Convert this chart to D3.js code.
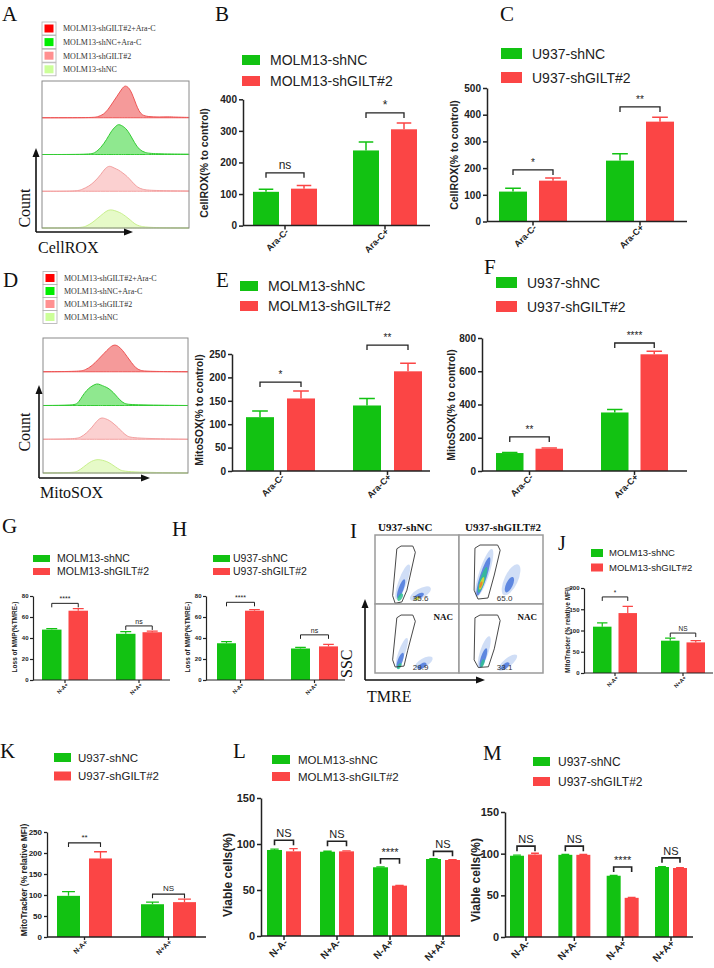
<!DOCTYPE html>
<html><head><meta charset="utf-8">
<script src="https://cdn.jsdelivr.net/npm/d3@7"></script>
<style>body{margin:0;background:#fff}</style>
</head><body><script>
// ---------------- DATA ----------------
const groupsAra = ["Ara-C-", "Ara-C+"];
const groupsNA = ["N-A+", "N+A+"];
const groupsViab = ["N-A-", "N+A-", "N-A+", "N+A+"];
const molmNames = ["MOLM13-shNC", "MOLM13-shGILT#2"];
const u937Names = ["U937-shNC", "U937-shGILT#2"];
const histNames = ["MOLM13-shGILT#2+Ara-C", "MOLM13-shNC+Ara-C", "MOLM13-shGILT#2", "MOLM13-shNC"];

// B: CellROX MOLM13
const bNC = [107, 238], bNCErr = [8, 27];
const bKD = [117, 305], bKDErr = [10, 20];
const bSig = ["ns", "*"], bSigY = [167, 357];
const bTicks = [0, 100, 200, 300, 400];
// C: CellROX U937
const cNC = [112, 228], cNCErr = [13, 26];
const cKD = [153, 374], cKDErr = [10, 16];
const cSig = ["*", "**"], cSigY = [193, 429];
const cTicks = [0, 100, 200, 300, 400, 500];
// E: MitoSOX MOLM13
const eNC = [115, 140], eNCErr = [13, 15];
const eKD = [155, 213], eKDErr = [16, 17];
const eSig = ["*", "**"], eSigY = [190, 269];
const eTicks = [0, 50, 100, 150, 200, 250];
// F: MitoSOX U937
const fNC = [108, 352], fNCErr = [3, 18];
const fKD = [134, 702], fKDErr = [5, 18];
const fSig = ["**", "****"], fSigY = [205, 770];
const fTicks = [0, 200, 400, 600, 800];
// G: Loss of MMP MOLM13
const gNC = [48, 44], gNCErr = [1, 2];
const gKD = [66, 45.5], gKDErr = [2, 1];
const gSig = ["****", "ns"], gSigY = [73, 51.5];
const gTicks = [0, 20, 40, 60, 80];
// H: Loss of MMP U937
const hNC = [35, 30], hNCErr = [1.5, 1];
const hKD = [66, 32], hKDErr = [1, 2];
const hSig = ["****", "ns"], hSigY = [74, 43];
// J: MitoTracker MOLM13
const jNC = [109, 76], jNCErr = [9, 6];
const jKD = [141, 72], jKDErr = [16, 4];
const jSig = ["*", "NS"], jSigY = [179, 94];
const jTicks = [0, 50, 100, 150, 200];
// K: MitoTracker U937
const kNC = [98, 78], kNCErr = [10, 5];
const kKD = [187, 83], kKDErr = [16, 7];
const kSig = ["**", "NS"], kSigY = [224, 102];
const kTicks = [0, 50, 100, 150, 200, 250];
// L: viability MOLM13
const lNC = [93.5, 91.6, 74.7, 83.7], lNCErr = [1, 0.5, 0.5, 0.5];
const lKD = [92, 92, 54.7, 82.6], lKDErr = [3, 0.5, 0.3, 0.5];
const lSig = ["NS", "NS", "****", "NS"], lSigY = [104, 103, 84, 92];
const vTicks = [0, 50, 100, 150];
// M: viability U937
const mNC = [97.5, 98.6, 73.5, 84], mNCErr = [0.8, 0.5, 0.5, 0.5];
const mKD = [99, 98.6, 47, 82.8], mKDErr = [1.5, 0.5, 0.5, 0.5];
const mSig = ["NS", "NS", "****", "NS"], mSigY = [109, 109, 84, 95];

// A: CellROX histograms [channel, relative count]
const aRed = [[0,0],[35,0],[38,0.03],[42,0.1],[45,0.25],[48,0.45],[51,0.65],[54,0.85],[56,0.97],[58,0.95],[60,0.85],[62,0.65],[64,0.4],[66,0.2],[68,0.08],[72,0.03],[80,0.02],[86,0.03],[90,0.02],[100,0.01]];
const aGreen = [[0,0],[33,0],[36,0.05],[40,0.2],[44,0.45],[47,0.7],[50,0.85],[52,0.92],[54,0.88],[57,0.8],[60,0.6],[63,0.35],[66,0.15],[70,0.05],[76,0.02],[100,0.01]];
const aPink = [[0,0],[24,0],[27,0.05],[32,0.15],[36,0.3],[40,0.5],[43,0.7],[46,0.78],[49,0.7],[52,0.65],[55,0.55],[58,0.45],[61,0.3],[64,0.15],[68,0.05],[75,0.02],[100,0.01]];
const aLight = [[0,0],[26,0],[30,0.05],[34,0.15],[38,0.3],[42,0.45],[45,0.55],[48,0.55],[51,0.5],[54,0.45],[57,0.35],[60,0.25],[63,0.12],[67,0.04],[75,0.01],[100,0]];
// D: MitoSOX histograms
const dRed = [[0,0],[25,0.01],[29,0.05],[34,0.2],[38,0.4],[42,0.6],[46,0.8],[49,0.9],[52,0.85],[55,0.7],[58,0.5],[61,0.3],[64,0.12],[67,0.04],[72,0.01],[100,0]];
const dGreen = [[0,0],[21,0.01],[24,0.06],[27,0.3],[30,0.5],[33,0.62],[36,0.7],[38,0.72],[41,0.65],[44,0.6],[47,0.5],[50,0.35],[53,0.18],[56,0.06],[60,0.02],[100,0]];
const dPink = [[0,0],[22,0.01],[26,0.06],[30,0.2],[34,0.4],[37,0.6],[40,0.72],[43,0.68],[46,0.62],[49,0.5],[52,0.38],[55,0.22],[58,0.1],[62,0.03],[100,0]];
const dLight = [[0,0],[20,0.01],[24,0.05],[28,0.2],[32,0.35],[35,0.42],[38,0.45],[41,0.42],[44,0.38],[47,0.3],[50,0.2],[53,0.1],[57,0.03],[100,0]];

// I: flow cytometry cells
const iTitles = ["U937-shNC", "U937-shGILT#2"];
const iPct = ["35.6", "65.0", "29.9", "33.1"];
const iGates = [
  [[26,80],[31,84],[45,84],[48,75],[38,20],[32,3],[24,1],[21,12]],
  [[19,81],[25,85.5],[46,85.5],[49,78],[42,42],[34.5,8.7],[22.6,7.2],[18,20]],
  [[26,80],[31,84],[45,84],[48,75],[39,33],[34.5,10],[24,8.7],[21,19]],
  [[19,80],[25,84],[46,84],[49,76],[42,35],[35,9],[23,8],[18,19]]
];
// density blobs: [x%, y%, rx%, ry%, angle, level]
const iBlobs = [
  [[33,32,22,5,-70,0],[31,22,12,3,-70,1],[30,10,5,2.5,-60,2],[54,15,14,6,-30,0],[52,11,7,3,-30,1],[50,8,3.5,2,-20,3]],
  [[30,45,30,6,-72,0],[62,35,20,8,-65,0],[60,28,10,4,-65,1],[29,40,24,4,-72,1],[28,35,16,3,-72,2],[27,30,8,2,-72,3],[26,28,4,1.5,-72,4]],
  [[32,30,18,4,-70,0],[30,18,10,3,-70,1],[29,10,4,2,-60,2],[58,15,12,5,-30,0],[56,10,6,3,-30,1]],
  [[30,30,20,5,-72,0],[58,15,14,5,-40,0],[29,22,12,3,-72,1],[28,14,5,2,-70,2],[55,10,6,3,-40,1]]
];
const levelColors = ["#a9c3ee", "#4a78dc", "#2fbf8f", "#e3e02a", "#f07a2a"];

// ---------------- DRAW ----------------
const GREEN = "#12c212", RED = "#fb4545";
const SANS = "'Liberation Sans', Arial, sans-serif";
const SERIF = "'Liberation Serif', 'Times New Roman', serif";
const svg = d3.select("body").append("svg").attr("width", 714).attr("height", 968)
  .style("background", "#fff");

function letter(t, x, y, size) {
  svg.append("text").attr("x", x).attr("y", y).text(t)
    .style("font-family", SERIF).style("font-size", (size || 21) + "px").attr("fill", "#111");
}

function legend(o) {
  const names = o.names, colors = [GREEN, RED];
  names.forEach((n, i) => {
    svg.append("rect").attr("x", o.x).attr("y", o.y + i * o.dy).attr("width", o.w).attr("height", o.h)
      .attr("fill", colors[i]);
    svg.append("text").attr("x", o.tx).attr("y", o.y + i * o.dy + o.h / 2).attr("dy", "0.36em")
      .text(n).style("font-family", SANS).style("font-size", o.fs + "px").attr("fill", "#222");
  });
}

function barChart(o) {
  const g = svg.append("g");
  const y = d3.scaleLinear().domain([0, o.max]).range([o.base, o.top]);
  const n = o.cats.length, gw = 2 * o.bw + o.gap;
  const step = (o.e - o.s - gw) / (n - 1);
  const xg = d3.scaleBand().domain(o.cats).range([o.s, o.e]).paddingInner(1 - gw / step).paddingOuter(0);
  const xs = d3.scaleBand().domain([0, 1]).range([0, gw]).paddingInner(o.gap / (o.bw + o.gap)).paddingOuter(0);
  const series = [{ v: o.nc, e: o.ncErr, c: GREEN }, { v: o.kd, e: o.kdErr, c: RED }];
  series.forEach((s, k) => {
    const sel = g.selectAll(null).data(o.cats).enter();
    sel.append("rect").attr("x", d => xg(d) + xs(k)).attr("width", xs.bandwidth())
      .attr("y", (d, i) => y(s.v[i])).attr("height", (d, i) => o.base - y(s.v[i])).attr("fill", s.c);
    sel.append("path").attr("d", (d, i) => {
      const cx = xg(d) + xs(k) + xs.bandwidth() / 2, yt = y(s.v[i] + s.e[i]), cw = xs.bandwidth() * 0.28;
      return `M${cx},${y(s.v[i])}V${yt}M${cx - cw},${yt}H${cx + cw}`;
    }).attr("stroke", s.c).attr("stroke-width", o.elw || 1.5).attr("fill", "none");
  });
  o.cats.forEach((d, i) => {
    const x1 = xg(d) + xs(0) + xs.bandwidth() / 2, x2 = xg(d) + xs(1) + xs.bandwidth() / 2, yy = y(o.sigY[i]);
    g.append("path").attr("d", `M${x1},${yy + o.drop}V${yy}H${x2}V${yy + o.drop}`)
      .attr("stroke", "#222").attr("stroke-width", o.blw || 1.3).attr("fill", "none");
    g.append("text").attr("x", (x1 + x2) / 2).attr("y", yy - o.sgap).attr("text-anchor", "middle")
      .text(o.sig[i]).style("font-family", SANS).style("font-size", o.sfs + "px").attr("fill", "#222");
  });
  const ya = g.append("g").attr("transform", `translate(${o.ax},0)`)
    .call(d3.axisLeft(y).tickValues(o.ticks).tickSize(o.tk).tickPadding(o.tp).tickSizeOuter(0));
  const xa = g.append("g").attr("transform", `translate(0,${o.base})`)
    .call(d3.axisBottom(xg).tickSize(o.tk).tickSizeOuter(0));
  xa.select(".domain").attr("d", `M${o.ax},0H${o.xe}`);
  [ya, xa].forEach(a => {
    a.selectAll("path,line").attr("stroke", "#222").attr("stroke-width", o.alw || 1.5);
    a.selectAll("text").style("font-family", SANS).style("font-weight", "bold").attr("fill", "#222");
  });
  ya.selectAll("text").style("font-size", o.tfs + "px");
  xa.selectAll("text").style("font-size", o.xfs + "px")
    .attr("text-anchor", "end").attr("transform", "rotate(-45)").attr("dx", "-0.2em").attr("dy", "0.2em").attr("y", o.tk + 2);
  svg.append("text").attr("transform", `translate(${o.ylx},${o.yly}) rotate(-90)`).attr("text-anchor", "middle")
    .text(o.ylabel).style("font-family", SANS).style("font-weight", "bold").style("font-size", o.yfs + "px").attr("fill", "#222");
}

function arrowLine(x1, y1, x2, y2, hl, hw) {
  const ang = Math.atan2(y2 - y1, x2 - x1);
  svg.append("line").attr("x1", x1).attr("y1", y1).attr("x2", x2 - Math.cos(ang) * hl * 0.8).attr("y2", y2 - Math.sin(ang) * hl * 0.8)
    .attr("stroke", "#111").attr("stroke-width", 1.6);
  const bx = x2 - Math.cos(ang) * hl, by = y2 - Math.sin(ang) * hl;
  const px = -Math.sin(ang) * hw / 2, py = Math.cos(ang) * hw / 2;
  svg.append("path").attr("d", `M${x2},${y2}L${bx + px},${by + py}L${bx - px},${by - py}Z`).attr("fill", "#111");
}

function histPanel(o) {
  const g = svg.append("g");
  const rowH = (o.y1 - o.y0) / 4;
  const x = d3.scaleLinear().domain([0, 100]).range([o.x0, o.x1]);
  o.rows.forEach((r, i) => {
    const yb = o.y0 + rowH * (i + 1);
    const y = d3.scaleLinear().domain([0, 1]).range([yb, yb - rowH * 0.9]);
    const area = d3.area().x(d => x(d[0])).y0(yb).y1(d => y(d[1])).curve(d3.curveBasis);
    g.append("path").datum(r.data).attr("d", area).attr("fill", r.fill).attr("stroke", r.stroke).attr("stroke-width", 1);
  });
  g.append("rect").attr("x", o.x0).attr("y", o.y0).attr("width", o.x1 - o.x0).attr("height", o.y1 - o.y0)
    .attr("fill", "none").attr("stroke", "#8a8a8a").attr("stroke-width", 1);
  const lc = ["#ff0000", "#00ee00", "#ff9090", "#ccff99"];
  histNames.forEach((nm, i) => {
    const cy = o.ly + i * o.ldy;
    g.append("rect").attr("x", o.lx).attr("y", cy - 6.5).attr("width", 14).attr("height", 13)
      .attr("fill", "#fff").attr("stroke", "#b0b0b0").attr("stroke-width", 0.8);
    g.append("rect").attr("x", o.lx + 2.5).attr("y", cy - 4).attr("width", 9).attr("height", 8).attr("fill", lc[i]);
    g.append("text").attr("x", o.lx + 21).attr("y", cy).attr("dy", "0.35em").text(nm)
      .style("font-family", SERIF).style("font-size", "8px").attr("fill", "#333");
  });
  arrowLine(o.ax, o.ay, o.ax, o.atop, 9, 7);
  arrowLine(o.ax, o.ay, o.aright, o.ay, 9, 7);
  svg.append("text").attr("transform", `translate(${o.cx},${o.cy}) rotate(-90)`).attr("text-anchor", "middle")
    .text("Count").style("font-family", SERIF).style("font-size", "16px").attr("fill", "#111");
  svg.append("text").attr("x", o.tx).attr("y", o.ty).text(o.xlabel)
    .style("font-family", SERIF).style("font-size", "16px").attr("fill", "#111");
}

// ---- Panel A
letter("A", 2, 21);
histPanel({
  x0: 42, x1: 189, y0: 81, y1: 228,
  rows: [
    { data: aRed, fill: "#f59a9a", stroke: "#ee5555" },
    { data: aGreen, fill: "#8fe88f", stroke: "#33cc33" },
    { data: aPink, fill: "#fbd0d0", stroke: "#f3a0a0" },
    { data: aLight, fill: "#e6fac8", stroke: "#c8f08c" }
  ],
  lx: 42, ly: 28.5, ldy: 13.6,
  ax: 36, ay: 232, atop: 148, aright: 133,
  cx: 30, cy: 208, tx: 38, ty: 253, xlabel: "CellROX"
});
// ---- Panel D
letter("D", 3, 287);
histPanel({
  x0: 43, x1: 188, y0: 338, y1: 473,
  rows: [
    { data: dRed, fill: "#f59a9a", stroke: "#ee5555" },
    { data: dGreen, fill: "#8fe88f", stroke: "#33cc33" },
    { data: dPink, fill: "#fbd0d0", stroke: "#f3a0a0" },
    { data: dLight, fill: "#e6fac8", stroke: "#c8f08c" }
  ],
  lx: 43, ly: 278, ldy: 13,
  ax: 39, ay: 478, atop: 385, aright: 150,
  cx: 30, cy: 432, tx: 40, ty: 498, xlabel: "MitoSOX"
});

// ---- Panel B
letter("B", 215, 21);
legend({ names: molmNames, x: 242, y: 55, w: 18, h: 10, dy: 21, tx: 270, fs: 14 });
barChart({ cats: groupsAra, nc: bNC, ncErr: bNCErr, kd: bKD, kdErr: bKDErr, sig: bSig, sigY: bSigY,
  ticks: bTicks, max: 400, ax: 243, xe: 430, base: 225.6, top: 99.3, s: 253, e: 417, bw: 26, gap: 12,
  tk: 4, tp: 2, tfs: 10, xfs: 9, drop: 5, sgap: 4, sfs: 12,
  ylabel: "CellROX(% to control)", ylx: 208, yly: 163, yfs: 10.5 });
// ---- Panel C
letter("C", 500, 21);
legend({ names: u937Names, x: 501, y: 48, w: 21, h: 11, dy: 24, tx: 532, fs: 14 });
barChart({ cats: groupsAra, nc: cNC, ncErr: cNCErr, kd: cKD, kdErr: cKDErr, sig: cSig, sigY: cSigY,
  ticks: cTicks, max: 500, ax: 487, xe: 687, base: 221.5, top: 88, s: 499, e: 674, bw: 28, gap: 12,
  tk: 4, tp: 2, tfs: 10, xfs: 9, drop: 5, sgap: 4, sfs: 10,
  ylabel: "CellROX(% to control)", ylx: 458, yly: 155, yfs: 10.5 });
// ---- Panel E
letter("E", 216, 287);
legend({ names: molmNames, x: 240, y: 281, w: 18, h: 10, dy: 20, tx: 268, fs: 14 });
barChart({ cats: groupsAra, nc: eNC, ncErr: eNCErr, kd: eKD, kdErr: eKDErr, sig: eSig, sigY: eSigY,
  ticks: eTicks, max: 250, ax: 232, xe: 430, base: 471, top: 354, s: 246, e: 422, bw: 28, gap: 13,
  tk: 4, tp: 2, tfs: 10, xfs: 9, drop: 5, sgap: 4, sfs: 10,
  ylabel: "MitoSOX(% to control)", ylx: 203, yly: 410, yfs: 10.5 });
// ---- Panel F
letter("F", 484, 274);
legend({ names: u937Names, x: 496, y: 277, w: 21, h: 11, dy: 24, tx: 527, fs: 14 });
barChart({ cats: groupsAra, nc: fNC, ncErr: fNCErr, kd: fKD, kdErr: fKDErr, sig: fSig, sigY: fSigY,
  ticks: fTicks, max: 800, ax: 482, xe: 687, base: 471, top: 338, s: 496, e: 668, bw: 27.5, gap: 12,
  tk: 4, tp: 2, tfs: 10, xfs: 9, drop: 5, sgap: 4, sfs: 10,
  ylabel: "MitoSOX(% to control)", ylx: 455, yly: 405, yfs: 10.5 });

// ---- Panel G
letter("G", 2, 533);
legend({ names: molmNames, x: 33, y: 555, w: 17, h: 7, dy: 13, tx: 57, fs: 10.5 });
barChart({ cats: groupsNA, nc: gNC, ncErr: gNCErr, kd: gKD, kdErr: gKDErr, sig: gSig, sigY: gSigY,
  ticks: gTicks, max: 80, ax: 33, xe: 170, base: 680, top: 596, s: 42, e: 162, bw: 19.5, gap: 7,
  tk: 3, tp: 1.5, tfs: 6, xfs: 5.5, drop: 4, sgap: 2, sfs: 7, alw: 1.2, elw: 1.2, blw: 1,
  ylabel: "Loss of MMP(%TMRE-)", ylx: 17, yly: 637, yfs: 6.5 });
// ---- Panel H
letter("H", 172, 536);
legend({ names: u937Names, x: 213, y: 555, w: 17, h: 7, dy: 13, tx: 233, fs: 10.5 });
barChart({ cats: groupsNA, nc: hNC, ncErr: hNCErr, kd: hKD, kdErr: hKDErr, sig: hSig, sigY: hSigY,
  ticks: gTicks, max: 80, ax: 206, xe: 345, base: 680, top: 596, s: 217, e: 338, bw: 19, gap: 9,
  tk: 3, tp: 1.5, tfs: 6, xfs: 5.5, drop: 4, sgap: 2, sfs: 7, alw: 1.2, elw: 1.2, blw: 1,
  ylabel: "Loss of MMP(%TMRE-)", ylx: 190, yly: 637, yfs: 6.5 });

// ---- Panel I
letter("I", 350, 538);
(function () {
  const cw = 84, ch = 69, x0 = 375, y0 = 535;
  iTitles.forEach((t, i) => svg.append("text").attr("x", x0 + 3 + i * (cw + 3)).attr("y", y0 - 4).text(t)
    .style("font-family", SERIF).style("font-weight", "bold").style("font-size", "11px").attr("fill", "#111"));
  for (let k = 0; k < 4; k++) {
    const cx0 = x0 + (k % 2) * cw, cy0 = y0 + Math.floor(k / 2) * ch;
    const sx = d3.scaleLinear().domain([0, 100]).range([cx0, cx0 + cw]);
    const sy = d3.scaleLinear().domain([0, 100]).range([cy0 + ch, cy0]);
    const cell = svg.append("g");
    cell.append("rect").attr("x", cx0).attr("y", cy0).attr("width", cw).attr("height", ch)
      .attr("fill", "#fff").attr("stroke", "#9a9a9a").attr("stroke-width", 1.5);
    iBlobs[k].forEach(b => {
      cell.append("ellipse").attr("cx", sx(b[0])).attr("cy", sy(b[1]))
        .attr("rx", b[2] * cw / 100).attr("ry", b[3] * cw / 100)
        .attr("transform", `rotate(${b[4]},${sx(b[0])},${sy(b[1])})`)
        .attr("fill", levelColors[b[5]]).attr("opacity", b[5] === 0 ? 0.55 : 0.85);
    });
    cell.append("path").datum(iGates[k]).attr("d", d3.line().x(d => sx(d[0])).y(d => sy(d[1])).curve(d3.curveLinearClosed))
      .attr("fill", "none").attr("stroke", "#333").attr("stroke-width", 0.9);
    cell.append("text").attr("x", sx(45)).attr("y", sy(4)).text(iPct[k])
      .style("font-family", SANS).style("font-size", "8px").attr("fill", "#333");
    if (k >= 2) cell.append("text").attr("x", cx0 + cw - 6).attr("y", cy0 + 16).attr("text-anchor", "end").text("NAC")
      .style("font-family", SERIF).style("font-weight", "bold").style("font-size", "9px").attr("fill", "#111");
  }
  arrowLine(365, 680, 365, 599, 9, 7);
  arrowLine(365, 680, 485, 680, 9, 7);
  svg.append("text").attr("transform", "translate(352,678) rotate(-90)").text("SSC")
    .style("font-family", SERIF).style("font-size", "16px").attr("fill", "#111");
  svg.append("text").attr("x", 367).attr("y", 702).text("TMRE")
    .style("font-family", SERIF).style("font-size", "16px").attr("fill", "#111");
})();

// ---- Panel J
letter("J", 558, 550, 20);
legend({ names: molmNames, x: 591, y: 549, w: 12, h: 8, dy: 14.5, tx: 609, fs: 9.5 });
barChart({ cats: groupsNA, nc: jNC, ncErr: jNCErr, kd: jKD, kdErr: jKDErr, sig: jSig, sigY: jSigY,
  ticks: jTicks, max: 200, ax: 584, xe: 713, base: 673, top: 588, s: 593, e: 705, bw: 18.5, gap: 7,
  tk: 3, tp: 1.5, tfs: 6, xfs: 5.5, drop: 4, sgap: 2, sfs: 6.5, alw: 1.2, elw: 1.2, blw: 1,
  ylabel: "MitoTracker (% relative MFI)", ylx: 570, yly: 630, yfs: 6.5 });
// ---- Panel K
letter("K", 0, 758);
legend({ names: u937Names, x: 54, y: 753, w: 17, h: 9, dy: 18.5, tx: 78, fs: 11.5 });
barChart({ cats: groupsNA, nc: kNC, ncErr: kNCErr, kd: kKD, kdErr: kKDErr, sig: kSig, sigY: kSigY,
  ticks: kTicks, max: 250, ax: 47, xe: 206, base: 937, top: 832, s: 57, e: 196, bw: 23, gap: 9,
  tk: 3, tp: 2, tfs: 8, xfs: 7, drop: 4, sgap: 3, sfs: 8, alw: 1.3, elw: 1.3, blw: 1.1,
  ylabel: "MitoTracker (% relative MFI)", ylx: 27, yly: 880, yfs: 8.5 });
// ---- Panel L
letter("L", 233, 758);
legend({ names: molmNames, x: 272, y: 755, w: 18, h: 9, dy: 17, tx: 298, fs: 11.5 });
barChart({ cats: groupsViab, nc: lNC, ncErr: lNCErr, kd: lKD, kdErr: lKDErr, sig: lSig, sigY: lSigY,
  ticks: vTicks, max: 150, ax: 261, xe: 460, base: 936, top: 798, s: 267, e: 460, bw: 15, gap: 4,
  tk: 4, tp: 2, tfs: 11, xfs: 10, drop: 5, sgap: 3, sfs: 11, alw: 1.5, elw: 1.3, blw: 1.6,
  ylabel: "Viable cells(%)", ylx: 232, yly: 875, yfs: 12 });
// ---- Panel M
letter("M", 483, 760);
legend({ names: u937Names, x: 533, y: 757, w: 17, h: 9, dy: 20, tx: 558, fs: 12 });
barChart({ cats: groupsViab, nc: mNC, ncErr: mNCErr, kd: mKD, kdErr: mKDErr, sig: mSig, sigY: mSigY,
  ticks: vTicks, max: 150, ax: 505, xe: 693, base: 937, top: 812, s: 510, e: 687, bw: 14, gap: 4,
  tk: 4, tp: 2, tfs: 11, xfs: 10, drop: 5, sgap: 3, sfs: 11, alw: 1.5, elw: 1.3, blw: 1.6,
  ylabel: "Viable cells(%)", ylx: 480, yly: 880, yfs: 12 });
</script></body></html>
